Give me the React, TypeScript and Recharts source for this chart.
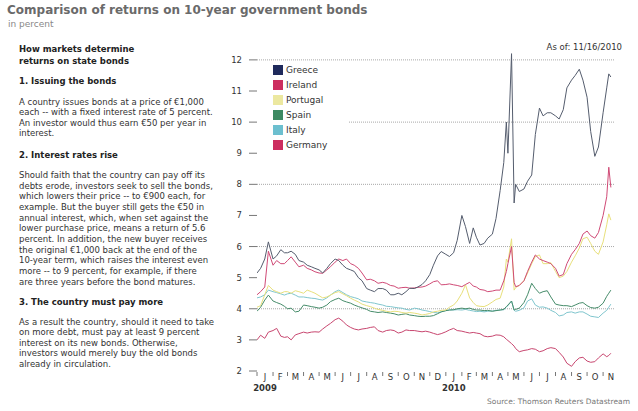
import React from 'react';
import { LineChart, Line, XAxis, YAxis, ReferenceLine } from 'recharts';

// sample dates (roughly weekly, a few extra around the May 2010 spike)
const dates = [
  '2009-01-01', '2009-01-08', '2009-01-16', '2009-01-23',
  '2009-02-01', '2009-02-08', '2009-02-16', '2009-02-23',
  '2009-03-01', '2009-03-08', '2009-03-16', '2009-03-23',
  '2009-04-01', '2009-04-08', '2009-04-16', '2009-04-23',
  '2009-05-01', '2009-05-08', '2009-05-16', '2009-05-23',
  '2009-06-01', '2009-06-08', '2009-06-16', '2009-06-23',
  '2009-07-01', '2009-07-08', '2009-07-16', '2009-07-23',
  '2009-08-01', '2009-08-08', '2009-08-16', '2009-08-23',
  '2009-09-01', '2009-09-08', '2009-09-16', '2009-09-23',
  '2009-10-01', '2009-10-08', '2009-10-16', '2009-10-23',
  '2009-11-01', '2009-11-08', '2009-11-16', '2009-11-23',
  '2009-12-01', '2009-12-08', '2009-12-16', '2009-12-23',
  '2010-01-01', '2010-01-08', '2010-01-16', '2010-01-23',
  '2010-02-01', '2010-02-08', '2010-02-16', '2010-02-23',
  '2010-03-01', '2010-03-08', '2010-03-16', '2010-03-23',
  '2010-04-01', '2010-04-08', '2010-04-16', '2010-04-23', '2010-04-28',
  '2010-05-01', '2010-05-08', '2010-05-13', '2010-05-16', '2010-05-23',
  '2010-06-01', '2010-06-08', '2010-06-16', '2010-06-23',
  '2010-07-01', '2010-07-08', '2010-07-16', '2010-07-23',
  '2010-08-01', '2010-08-08', '2010-08-16', '2010-08-23',
  '2010-09-01', '2010-09-08', '2010-09-16', '2010-09-23',
  '2010-10-01', '2010-10-08', '2010-10-16', '2010-10-23',
  '2010-11-01', '2010-11-08', '2010-11-12', '2010-11-16',
];

const greece = [
  5.15, 5.3, 5.6, 6.15, 5.6, 5.7, 5.9, 5.8, 5.8, 5.85, 5.75, 5.55,
  5.5, 5.4, 5.35, 5.3, 5.25, 5.15, 5.3, 5.45, 5.6, 5.55, 5.4, 5.3,
  5.25, 5.2, 5.0, 4.9, 4.65, 4.6, 4.55, 4.65, 4.65, 4.6, 4.45, 4.45,
  4.5, 4.45, 4.55, 4.66, 4.65, 4.7, 4.78, 4.9, 5.1, 5.4, 5.7, 5.84,
  5.75, 5.68, 5.8, 6.2, 7.0, 6.64, 6.1, 6.6, 6.3, 6.05, 6.1, 6.27,
  6.4, 6.9, 7.8, 8.7, 10.0, 9.0, 12.2, 7.4, 8.0, 7.77,
  7.85, 8.1, 8.3, 9.6, 10.45, 10.2, 10.3, 10.3, 10.2, 10.1, 10.4, 11.1,
  11.35, 11.5, 11.7, 11.35, 10.8, 9.7, 8.9, 9.2, 10.3, 11.1, 11.55, 11.45,
];

const ireland = [
  4.45, 4.55, 4.7, 5.85, 5.4, 5.55, 5.45, 5.45, 5.55, 5.67, 5.5, 5.35,
  5.4, 5.3, 5.25, 5.19, 5.15, 5.14, 5.25, 5.35, 5.5, 5.6, 5.55, 5.6,
  5.45, 5.4, 5.3, 5.15, 4.93, 4.95, 4.9, 4.82, 4.85, 4.82, 4.75, 4.73,
  4.66, 4.68, 4.69, 4.66, 4.67, 4.69, 4.7, 4.73, 4.8, 4.87, 4.9, 4.77,
  4.78, 4.8, 4.77, 4.75, 4.71, 4.78, 4.85, 4.73, 4.7, 4.62, 4.6, 4.55,
  4.57, 4.6, 4.6, 4.9, 5.2, 5.45, 6.0, 4.85, 4.71, 4.75,
  4.9, 5.2, 5.5, 5.73, 5.6, 5.55, 5.5, 5.45, 5.3, 5.05, 5.1, 5.45,
  5.75, 5.9, 6.1, 6.4, 6.5, 6.35, 6.27, 6.45, 7.0, 7.6, 8.55, 7.9,
];

const portugal = [
  4.05, 4.1, 4.45, 4.75, 4.6, 4.55, 4.5, 4.55, 4.55, 4.5, 4.58, 4.55,
  4.5, 4.6, 4.55, 4.5, 4.42, 4.35, 4.38, 4.44, 4.52, 4.55, 4.48, 4.42,
  4.34, 4.28, 4.22, 4.15, 4.1, 4.07, 4.02, 3.98, 3.95, 3.92, 3.9, 3.92,
  3.91, 3.88, 3.86, 3.88, 3.86, 3.84, 3.8, 3.82, 3.85, 3.9, 3.92, 3.95,
  3.96, 4.05, 4.12, 4.25, 4.5, 4.77, 4.35, 4.2, 4.1, 4.08, 4.07, 4.12,
  4.22, 4.3, 4.34, 4.7, 5.6, 5.5, 6.25, 4.6, 4.68, 4.75,
  4.9, 5.15, 5.45, 5.68, 5.73, 5.45, 5.45, 5.48, 5.2, 5.0, 5.05, 5.2,
  5.5, 5.7, 5.95, 6.25, 6.3, 6.1, 5.85, 5.75, 6.15, 6.7, 7.05, 6.85,
];

const spain = [
  3.92, 4.05, 4.28, 4.44, 4.25, 4.2, 4.15, 4.08, 4.0, 4.02, 3.9, 3.92,
  4.12, 4.1, 4.07, 4.05, 4.02, 4.05, 4.12, 4.23, 4.3, 4.34, 4.26, 4.22,
  4.18, 4.12, 4.07, 4.03, 3.98, 3.92, 3.9, 3.88, 3.9, 3.88, 3.86, 3.84,
  3.8, 3.82, 3.84, 3.8, 3.78, 3.76, 3.75, 3.76, 3.76, 3.78, 3.84, 3.9,
  3.94, 3.96, 3.97, 4.0, 4.02, 4.0, 4.02, 3.98, 3.96, 3.96, 3.94, 3.95,
  3.92, 3.94, 3.96, 3.98, 4.07, 4.12, 4.25, 3.96, 3.98, 4.02,
  4.2, 4.45, 4.82, 4.65, 4.5, 4.55, 4.58, 4.38, 4.15, 4.12, 4.1, 4.1,
  4.07, 4.12, 4.18, 4.2, 4.1, 4.04, 4.02, 4.05, 4.18, 4.4, 4.5, 4.6,
];

const italy = [
  4.35, 4.38, 4.45, 4.6, 4.55, 4.52, 4.48, 4.44, 4.48, 4.5, 4.44, 4.38,
  4.38, 4.36, 4.34, 4.33, 4.3, 4.28, 4.35, 4.44, 4.55, 4.6, 4.52, 4.45,
  4.39, 4.36, 4.32, 4.25, 4.22, 4.2, 4.18, 4.15, 4.12, 4.08, 4.07, 4.05,
  4.03, 4.02, 3.98, 3.96, 4.02, 4.0, 3.96, 3.94, 3.91, 3.88, 3.87, 3.9,
  3.94, 3.96, 3.96, 3.97, 3.96, 3.98, 3.95, 3.93, 3.91, 3.92, 3.9, 3.92,
  3.93, 3.95, 3.96, 3.97, 4.05, 4.1, 4.25, 3.95, 3.92, 3.95,
  4.03, 4.25, 4.32, 4.12, 4.05, 4.06, 4.02, 3.95, 3.88, 3.77, 3.8, 3.88,
  3.9, 3.86, 3.9, 3.9, 3.83, 3.76, 3.74, 3.72, 3.86, 3.95, 4.05, 4.15,
];

const germany = [
  3.0, 3.15, 3.05, 3.25, 3.3, 3.37, 3.12, 3.08, 3.1, 3.0, 3.16, 3.2,
  3.25, 3.22, 3.25, 3.26, 3.25, 3.35, 3.45, 3.53, 3.65, 3.7, 3.6, 3.48,
  3.4, 3.35, 3.32, 3.35, 3.37, 3.4, 3.42, 3.3, 3.25, 3.3, 3.32, 3.3,
  3.22, 3.25, 3.32, 3.3, 3.3, 3.28, 3.26, 3.28, 3.25, 3.21, 3.17, 3.2,
  3.26, 3.32, 3.37, 3.3, 3.28, 3.25, 3.22, 3.24, 3.22, 3.2, 3.12, 3.1,
  3.12, 3.16, 3.15, 3.1, 3.02, 2.98, 2.88, 2.8, 2.72, 2.62,
  2.66, 2.68, 2.72, 2.7, 2.62, 2.65, 2.72, 2.75, 2.72, 2.6, 2.45, 2.25,
  2.15, 2.3, 2.42, 2.44, 2.32, 2.28, 2.3, 2.42, 2.55, 2.46, 2.5, 2.57,
];

const monthLetters = ['J', 'F', 'M', 'A', 'M', 'J', 'J', 'A', 'S', 'O', 'N', 'D'];
const yTicks = [2, 3, 4, 5, 6, 7, 8, 9, 10, 11, 12];
const gridValues = [4, 6, 8, 10, 12];

const series = [
  { key: 'germany', name: 'Germany', values: germany, line: '#c8466f', swatch: '#cc2d5f' },
  { key: 'italy', name: 'Italy', values: italy, line: '#80c6ce', swatch: '#6cbfcf' },
  { key: 'spain', name: 'Spain', values: spain, line: '#468c6a', swatch: '#3d8a62' },
  { key: 'portugal', name: 'Portugal', values: portugal, line: '#e8e07c', swatch: '#ece8a0' },
  { key: 'ireland', name: 'Ireland', values: ireland, line: '#d04a76', swatch: '#cc2d5f' },
  { key: 'greece', name: 'Greece', values: greece, line: '#555d6e', swatch: '#1f2a5c' },
];
const legendOrder = ['greece', 'ireland', 'portugal', 'spain', 'italy', 'germany'];

const toTime = (d: string) => Date.parse(d + 'T00:00:00Z');

const rows = dates.map((d, i) => {
  const row: Record<string, number> = { time: toTime(d) };
  series.forEach((s) => (row[s.key] = s.values[i]));
  return row;
});

// month boundaries + month middles (for letters)
const monthTicks: number[] = [];
for (let k = 0; k < 23; k++) {
  const y = 2009 + Math.floor(k / 12);
  const m = k % 12;
  const start = Date.UTC(y, m, 1);
  const next = Date.UTC(y, m + 1, 1);
  monthTicks.push(start, (start + next) / 2);
}

const FONT = '"DejaVu Sans", Verdana, sans-serif';

function MonthTick(props: any) {
  const { x, y, payload } = props;
  const d = new Date(payload.value);
  if (d.getUTCDate() === 1 && d.getUTCHours() === 0) {
    return <line x1={x} x2={x} y1={y + 1} y2={y + 5} stroke="#777" />;
  }
  const m = d.getUTCMonth();
  return (
    <g>
      <text x={x} y={y + 8.5} textAnchor="middle" fontSize={8.5} fill="#333" fontFamily={FONT}>
        {monthLetters[m]}
      </text>
      {m === 0 && (
        <text x={x} y={y + 20} textAnchor="middle" fontSize={8.5} fontWeight="bold" fill="#333" fontFamily={FONT}>
          {d.getUTCFullYear()}
        </text>
      )}
    </g>
  );
}

const p = { margin: 0, position: 'absolute' as const, left: 19, whiteSpace: 'nowrap' as const };
const head = { ...p, fontSize: 8.5, fontWeight: 'bold' as const, lineHeight: '12px', color: '#222' };
const body = { ...p, fontSize: 8.5, lineHeight: '10.65px', color: '#333' };

export default function App() {
  return (
    <div
      style={{
        position: 'absolute',
        left: 0,
        top: 0,
        width: 638,
        height: 411,
        background: '#fff',
        fontFamily: FONT,
        overflow: 'hidden',
      }}
    >
      <div style={{ position: 'absolute', left: 7, top: 3, fontSize: 12, fontWeight: 'bold', color: '#6a6a6a', whiteSpace: 'nowrap' }}>
        Comparison of returns on 10-year government bonds
      </div>
      <div style={{ position: 'absolute', left: 8, top: 19, fontSize: 9, color: '#888' }}>in percent</div>

      <div style={{ ...head, top: 43 }}>
        How markets determine
        <br />
        returns on state bonds
      </div>
      <div style={{ ...head, top: 75 }}>1. Issuing the bonds</div>
      <div style={{ ...body, top: 96.5 }}>
        A country issues bonds at a price of €1,000
        <br />
        each -- with a fixed interest rate of 5 percent.
        <br />
        An investor would thus earn €50 per year in
        <br />
        interest.
      </div>
      <div style={{ ...head, top: 148.5 }}>2. Interest rates rise</div>
      <div style={{ ...body, top: 170 }}>
        Should faith that the country can pay off its
        <br />
        debts erode, investors seek to sell the bonds,
        <br />
        which lowers their price -- to €900 each, for
        <br />
        example. But the buyer still gets the €50 in
        <br />
        annual interest, which, when set against the
        <br />
        lower purchase price, means a return of 5.6
        <br />
        percent. In addition, the new buyer receives
        <br />
        the original €1,000 back at the end of the
        <br />
        10-year term, which raises the interest even
        <br />
        more -- to 9 percent, for example, if there
        <br />
        are three years before the bond matures.
      </div>
      <div style={{ ...head, top: 295.5 }}>3. The country must pay more</div>
      <div style={{ ...body, top: 316.5 }}>
        As a result the country, should it need to take
        <br />
        on more debt, must pay at least 9 percent
        <br />
        interest on its new bonds. Otherwise,
        <br />
        investors would merely buy the old bonds
        <br />
        already in circulation.
      </div>

      <div style={{ position: 'absolute', left: 0, top: 0 }}>
        <LineChart width={638} height={411} data={rows} margin={{ top: 49, right: 23, bottom: 0, left: 0 }}>
          <XAxis
            dataKey="time"
            type="number"
            domain={[Date.UTC(2009, 0, 1), Date.UTC(2010, 10, 24)]}
            ticks={monthTicks}
            interval={0}
            tick={<MonthTick />}
            tickLine={false}
            tickSize={0}
            tickMargin={0}
            axisLine={false}
            height={40}
            allowDataOverflow
          />
          <YAxis
            type="number"
            domain={[2, 12.35]}
            ticks={yTicks}
            interval={0}
            width={257}
            axisLine={false}
            tickSize={8}
            tickMargin={7}
            tickLine={{ stroke: '#777' }}
            tick={{ fontSize: 8.5, fill: '#333', fontFamily: FONT }}
            allowDataOverflow
          />
          {gridValues.map((v) => (
            <ReferenceLine key={v} y={v} stroke="#a8a8a8" strokeDasharray="1 1" />
          ))}
          {series.map((s) => (
            <Line
              key={s.key}
              dataKey={s.key}
              name={s.name}
              stroke={s.line}
              strokeWidth={1}
              dot={false}
              type="linear"
              isAnimationActive={false}
            />
          ))}
        </LineChart>
      </div>

      <div style={{ position: 'absolute', left: 257, top: 61, width: 91, height: 92, background: '#fff' }}>
        {legendOrder.map((k, i) => {
          const s = series.find((x) => x.key === k)!;
          return (
            <div
              key={k}
              style={{ position: 'absolute', left: 16, top: 1 + i * 15, height: 15, display: 'flex', alignItems: 'center' }}
            >
              <div style={{ width: 10, height: 10, background: s.swatch, marginRight: 3 }} />
              <span style={{ fontSize: 9, color: '#333', whiteSpace: 'nowrap' }}>{s.name}</span>
            </div>
          );
        })}
      </div>

      <div style={{ position: 'absolute', right: 16, top: 42, fontSize: 8.5, color: '#333', whiteSpace: 'nowrap' }}>
        As of: 11/16/2010
      </div>
      <div style={{ position: 'absolute', right: 8, top: 397, fontSize: 7.5, color: '#777', whiteSpace: 'nowrap' }}>
        Source: Thomson Reuters Datastream
      </div>
    </div>
  );
}
